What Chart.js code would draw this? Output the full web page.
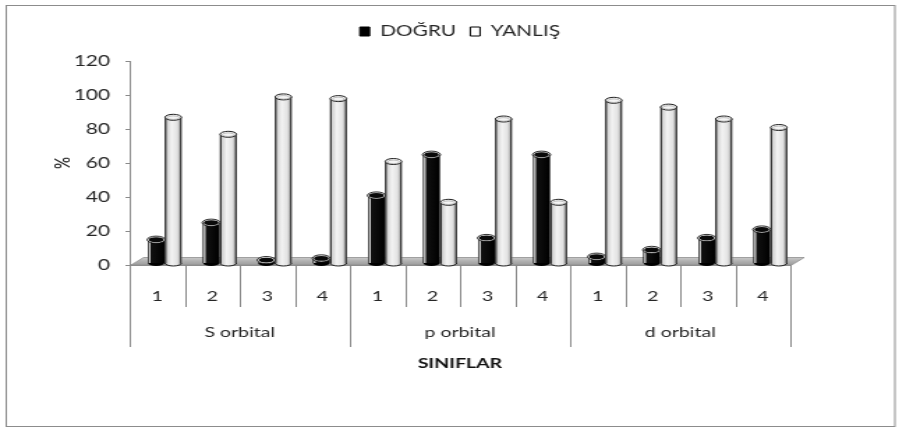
<!DOCTYPE html>
<html>
<head>
<meta charset="utf-8">
<script src="https://cdn.jsdelivr.net/npm/chart.js@4.4.1/dist/chart.umd.min.js"></script>
<style>
  html, body { margin: 0; padding: 0; background: #ffffff; }
</style>
</head>
<body>
<canvas id="chart" width="650" height="430" style="display:block;width:906px;height:430px;"></canvas>
<script>
// Class levels inside each orbital group
const classes = ['1', '2', '3', '4', '1', '2', '3', '4', '1', '2', '3', '4'];
// Orbital groups (second label row)
const groups = ['S orbital', 'p orbital', 'd orbital'];
// Percentage of correct answers
const dogru = [14, 24, 2, 3, 40, 64, 15, 64, 4, 8, 15, 20];
// Percentage of wrong answers
const yanlis = [86, 76, 98, 97, 60, 36, 85, 36, 96, 92, 85, 80];
const seriesNames = ['DOĞRU', 'YANLIŞ'];
const yMin = 0, yMax = 120, yStep = 20;

const FONT = 'Lato, "Open Sans", sans-serif';
const AXIS_GREY = '#8a8a8a';
const TEXT = '#262626';

// Empty band between the legend and the plot area
const legendGap = {
  id: 'legendGap',
  beforeInit(chart) {
    Chart.layouts.addBox(chart, {
      position: 'top',
      weight: 0,
      fullSize: false,
      options: { stackWeight: 1 },
      update(maxWidth) { this.width = maxWidth; this.height = 12; },
      isHorizontal() { return true; },
      draw() {}
    });
  }
};

// 3D floor + cylinder rendering on top of the plain bars
const cylinders = {
  id: 'cylinders',
  beforeDatasetsDraw(chart) {
    const { ctx, chartArea: a, scales: { y } } = chart;
    const y0 = y.getPixelForValue(0);
    ctx.save();
    ctx.beginPath();
    ctx.moveTo(a.left + 1, y0);
    ctx.lineTo(a.right + 1, y0);
    ctx.lineTo(a.right + 10, y0 - 7.5);
    ctx.lineTo(a.left + 10, y0 - 7.5);
    ctx.closePath();
    const g = ctx.createLinearGradient(0, y0 - 7.5, 0, y0);
    g.addColorStop(0, '#c9c9c9');
    g.addColorStop(0.5, '#b0b0b0');
    g.addColorStop(1, '#9c9c9c');
    ctx.fillStyle = g;
    ctx.fill();
    ctx.strokeStyle = '#8f8f8f';
    ctx.lineWidth = 0.8;
    ctx.stroke();
    ctx.restore();
    ctx.save();
    ctx.translate(5.4, -1.5);
  },
  afterDatasetsDraw(chart) {
    const { ctx } = chart;
    const ry = 3;
    chart.data.datasets.forEach((ds, di) => {
      const meta = chart.getDatasetMeta(di);
      meta.data.forEach((bar) => {
        const { x, y, base, width } = bar.getProps(['x', 'y', 'base', 'width'], true);
        const rx = width / 2;
        const l = x - rx, r = x + rx;
        if (di === 0) {
          // dark cylinder
          ctx.save();
          const g = ctx.createLinearGradient(l, 0, r, 0);
          g.addColorStop(0, '#1a1a1a');
          g.addColorStop(0.1, '#eeeeee');
          g.addColorStop(0.2, '#111111');
          g.addColorStop(1, '#000000');
          ctx.fillStyle = g;
          ctx.fillRect(l, y, width, base - y);
          ctx.beginPath();
          ctx.ellipse(x, base, rx, ry, 0, 0, Math.PI);
          ctx.fillStyle = '#000';
          ctx.fill();
          ctx.beginPath();
          ctx.ellipse(x, y, rx, ry, 0, 0, Math.PI * 2);
          ctx.fillStyle = '#0a0a0a';
          ctx.fill();
          ctx.strokeStyle = '#e8e8e8';
          ctx.lineWidth = 1.1;
          ctx.stroke();
          ctx.beginPath();
          ctx.ellipse(x, y, rx + 0.6, ry + 0.6, 0, 0, Math.PI * 2);
          ctx.strokeStyle = '#000';
          ctx.lineWidth = 0.8;
          ctx.stroke();
          ctx.restore();
        } else {
          // light cylinder
          ctx.save();
          const g = ctx.createLinearGradient(l, 0, r, 0);
          g.addColorStop(0, '#6e6e6e');
          g.addColorStop(0.12, '#cfcfcf');
          g.addColorStop(0.4, '#f3f3f3');
          g.addColorStop(0.75, '#e2e2e2');
          g.addColorStop(1, '#8a8a8a');
          ctx.fillStyle = g;
          ctx.fillRect(l, y, width, base - y);
          ctx.beginPath();
          ctx.ellipse(x, base, rx, ry, 0, 0, Math.PI);
          ctx.fill();
          ctx.strokeStyle = '#1e1e1e';
          ctx.lineWidth = 1;
          ctx.stroke();
          ctx.beginPath();
          ctx.moveTo(l + 0.4, y);
          ctx.lineTo(l + 0.4, base);
          ctx.moveTo(r - 0.4, y);
          ctx.lineTo(r - 0.4, base);
          ctx.stroke();
          ctx.beginPath();
          ctx.ellipse(x, y, rx, ry, 0, 0, Math.PI * 2);
          ctx.fillStyle = '#f4f4f4';
          ctx.fill();
          ctx.strokeStyle = '#1e1e1e';
          ctx.lineWidth = 1;
          ctx.stroke();
          ctx.beginPath();
          ctx.ellipse(x, y + 0.4, rx - 1.6, ry - 1.2, 0, 0, Math.PI * 2);
          ctx.strokeStyle = '#9a9a9a';
          ctx.lineWidth = 0.6;
          ctx.stroke();
          ctx.restore();
        }
      });
    });
    ctx.restore();
  }
};

// Two-level category separators and the outer frame
const frame = {
  id: 'frame',
  beforeDraw(chart) {
    const { ctx } = chart;
    ctx.save();
    ctx.strokeStyle = '#8c8c8c';
    ctx.lineWidth = 1;
    ctx.strokeRect(4.5, 5.5, 637.5, 421);
    ctx.restore();
  },
  afterDraw(chart) {
    const { ctx, chartArea: a, scales: { x, x2 } } = chart;
    const step = (a.right - a.left) / classes.length;
    ctx.save();
    ctx.strokeStyle = AXIS_GREY;
    ctx.lineWidth = 1;
    for (let i = 0; i <= classes.length; i++) {
      const px = Math.round(a.left + i * step) + 0.5;
      const yEnd = (i % 4 === 0) ? x2.top + 40 : x.bottom;
      ctx.beginPath();
      ctx.moveTo(px, a.bottom);
      ctx.lineTo(px, yEnd);
      ctx.stroke();
    }
    ctx.restore();
  }
};

new Chart(document.getElementById('chart'), {
  type: 'bar',
  data: {
    labels: classes,
    datasets: [
      { label: seriesNames[0], data: dogru, backgroundColor: '#000000', borderWidth: 0,
        categoryPercentage: 0.62, barPercentage: 0.96 },
      { label: seriesNames[1], data: yanlis, backgroundColor: '#e6e6e6', borderWidth: 0,
        categoryPercentage: 0.62, barPercentage: 0.96 }
    ]
  },
  options: {
    responsive: false,
    maintainAspectRatio: false,
    animation: false,
    layout: { padding: { top: 14, right: 83, left: 0, bottom: 0 } },
    plugins: {
      tooltip: { enabled: false },
      legend: {
        position: 'top',
        fullSize: false,
        labels: {
          font: { family: FONT, size: 15 },
          color: TEXT,
          boxWidth: 7,
          boxHeight: 9,
          padding: 10,
          generateLabels(chart) {
            const items = Chart.defaults.plugins.legend.labels.generateLabels(chart);
            items.forEach((it, i) => {
              it.fillStyle = i === 0 ? '#000000' : '#ffffff';
              it.strokeStyle = '#000000';
              it.lineWidth = 1;
            });
            return items;
          }
        }
      }
    },
    scales: {
      x: {
        type: 'category',
        weight: 0,
        offset: true,
        grid: { display: false },
        border: { display: true, color: AXIS_GREY },
        ticks: { font: { family: FONT, size: 14 }, color: TEXT, padding: 15, maxRotation: 0, autoSkip: false },
        afterFit(s) { s.height = 42; }
      },
      x2: {
        type: 'category',
        position: 'bottom',
        weight: 1,
        offset: true,
        labels: groups,
        grid: { display: false },
        border: { display: false },
        ticks: { font: { family: FONT, size: 14 }, color: TEXT, padding: 9, maxRotation: 0 },
        title: {
          display: true,
          text: 'SINIFLAR',
          font: { family: FONT, size: 14, weight: 'bold' },
          color: '#111111',
          padding: { top: 0, bottom: 58 }
        },
        afterFit(s) { s.height = 123; }
      },
      y: {
        min: yMin,
        max: yMax,
        ticks: { stepSize: yStep, font: { family: FONT, size: 15 }, color: TEXT, padding: 11 },
        grid: { drawOnChartArea: false, drawTicks: true, tickLength: 3, color: AXIS_GREY },
        border: { display: true, color: AXIS_GREY },
        title: {
          display: true,
          text: '%',
          font: { family: FONT, size: 15 },
          color: '#111111',
          padding: { top: 36, bottom: 0 }
        },
        afterFit(s) { s.width = 93; }
      }
    }
  },
  plugins: [legendGap, cylinders, frame]
});
</script>
</body>
</html>
